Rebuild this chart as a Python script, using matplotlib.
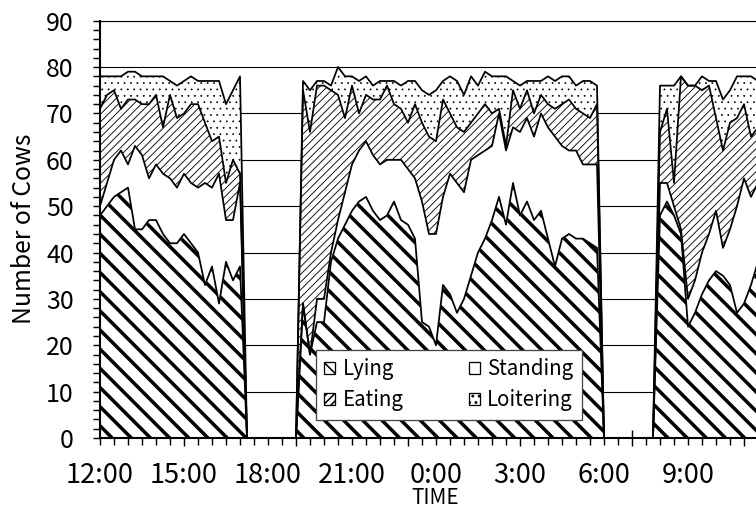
import numpy as np
import matplotlib.pyplot as plt
from matplotlib.patches import Patch
from matplotlib.ticker import MultipleLocator, FixedLocator, FuncFormatter

plt.rcParams['font.family'] = ['Noto Sans CJK JP', 'DejaVu Sans']

### Data: number of cows per behaviour, 15-min steps, hours after 12:00
step = 0.25

start_1 = 0.0
lying_1    = [48, 50, 52, 53, 54, 45, 45, 47, 47, 44, 42, 42, 44, 42, 40, 33, 37, 29, 38, 34, 37]
standing_1 = [2, 5, 8, 9, 5, 18, 16, 9, 12, 13, 14, 12, 13, 13, 14, 22, 17, 28, 9, 13, 18]
eating_1   = [21, 19, 15, 9, 14, 10, 11, 16, 15, 10, 18, 15, 13, 17, 18, 13, 10, 8, 8, 13, 2]
loiter_1   = [7, 4, 3, 7, 6, 6, 6, 6, 4, 11, 3, 7, 7, 6, 5, 9, 13, 12, 17, 15, 21]

start_2 = 7.25
lying_2    = [29, 18, 25, 25, 38, 43, 46, 49, 51, 52, 49, 47, 48, 51, 47, 46, 43, 25, 24, 20, 33, 31,
              27, 30, 35, 40, 43, 47, 52, 46, 55, 48, 51, 47, 49, 43, 37, 43, 44, 43, 43, 42, 41]
standing_2 = [0, 0, 5, 5, 2, 4, 7, 10, 11, 12, 12, 12, 12, 9, 13, 12, 13, 26, 20, 24, 19, 26,
              28, 23, 25, 21, 19, 16, 18, 16, 12, 18, 18, 18, 21, 24, 28, 20, 18, 19, 16, 17, 18]
eating_2   = [46, 48, 46, 46, 35, 27, 16, 17, 8, 10, 12, 14, 16, 12, 11, 10, 16, 17, 21, 20, 21, 13,
              12, 13, 8, 9, 10, 7, 1, 1, 8, 5, 6, 5, 4, 5, 6, 9, 11, 9, 11, 10, 13]
loiter_2   = [2, 9, 1, 1, 1, 6, 9, 2, 7, 4, 3, 4, 1, 5, 5, 9, 5, 7, 9, 11, 4, 8,
              10, 8, 10, 6, 7, 8, 7, 15, 2, 5, 2, 7, 3, 6, 6, 6, 5, 5, 7, 8, 4]

start_3 = 20.0
lying_3    = [48, 51, 48, 44, 24, 27, 31, 34, 36, 35, 33, 27, 29, 33, 38]
standing_3 = [7, 4, 2, 1, 6, 7, 9, 10, 13, 6, 12, 23, 27, 19, 17]
eating_3   = [11, 16, 5, 33, 46, 42, 35, 32, 20, 21, 23, 19, 16, 13, 12]
loiter_3   = [10, 5, 21, 0, 0, 0, 3, 1, 8, 11, 7, 9, 6, 13, 10]

hour_ticks = ['12:00', '15:00', '18:00', '21:00', '0:00', '3:00', '6:00', '9:00']

### Build full time axis (zeros where no observation)
t = np.arange(0, 24 + step / 2, step)
layers = np.zeros((4, len(t)))
for start, cols in [(start_1, (lying_1, standing_1, eating_1, loiter_1)),
                    (start_2, (lying_2, standing_2, eating_2, loiter_2)),
                    (start_3, (lying_3, standing_3, eating_3, loiter_3))]:
    i0 = int(round(start / step))
    for k in range(4):
        layers[k, i0:i0 + len(cols[k])] = cols[k]
cum = np.cumsum(layers, axis=0)

dpi = 115
fig = plt.figure(figsize=(756 / dpi, 510 / dpi), dpi=dpi)
ax = fig.add_axes([100 / 756, 72 / 510, 672 / 756, 417.3 / 510])
ax.set_axisbelow(True)

hatches = ['\\\\', None, '/////', '...']
hlw = [2.2, 0.5, 0.55, 0.35]
base = np.zeros(len(t))
for k in range(4):
    with plt.rc_context({'hatch.linewidth': hlw[k]}):
        ax.fill_between(t, base, cum[k], facecolor='white', edgecolor='black',
                        hatch=hatches[k], linewidth=0, zorder=2)
    base = cum[k]
for k in range(4):
    ax.plot(t, cum[k], color='black', lw=1.1, zorder=3)

ax.set_xlim(0, 24)
ax.set_ylim(0, 90)

ax.yaxis.set_major_locator(MultipleLocator(10))
ax.yaxis.set_minor_locator(MultipleLocator(2))
ax.yaxis.grid(True, which='major', color='black', lw=0.7)

def hour_label(v, pos):
    if abs(v / 3 - round(v / 3)) < 1e-6 and 0 <= round(v / 3) < len(hour_ticks):
        return hour_ticks[int(round(v / 3))]
    return ''

ax.xaxis.set_major_locator(FixedLocator(np.arange(3, 24, 4)))
ax.xaxis.set_minor_locator(MultipleLocator(0.5))
ax.xaxis.set_major_formatter(FuncFormatter(hour_label))
ax.xaxis.set_minor_formatter(FuncFormatter(hour_label))

ax.tick_params(axis='x', which='major', direction='inout', length=10, width=0.9,
               labelsize=17, pad=10.2)
ax.tick_params(axis='x', which='minor', direction='out', length=4.4, width=0.9,
               labelsize=17, pad=10.7)
ax.tick_params(axis='y', which='both', direction='out', length=4.4, width=0.9,
               labelsize=15.6, pad=12)

for s in ['left', 'bottom']:
    ax.spines[s].set_linewidth(1.3)
ax.spines['top'].set_linewidth(0.7)
ax.spines['right'].set_visible(False)

fig.text(24 / 756, 1 - 229 / 510, 'Number of Cows', rotation=90, ha='center',
         va='center', fontsize=15.5)
fig.text(435 / 756, 1 / 510, 'TIME', ha='center', va='bottom', fontsize=13)

handles = []
names = ['Lying', 'Eating', 'Standing', 'Loitering']
order = [0, 2, 1, 3]
for name, k in zip(names, order):
    with plt.rc_context({'hatch.linewidth': [1.2, 0.5, 0.5, 0.35][k]}):
        handles.append(Patch(facecolor='white', edgecolor='black', hatch=hatches[k],
                             linewidth=0.8, label=name))
leg = ax.legend(handles=handles, ncol=2, loc='upper left',
                bbox_to_anchor=(316 / 756, 1 - 350 / 510), bbox_transform=fig.transFigure,
                fontsize=12.8, frameon=True, fancybox=False, framealpha=1,
                edgecolor='#444444', borderpad=0.4, handlelength=0.55, handleheight=0.55,
                handletextpad=0.35, columnspacing=3.2, labelspacing=0.45, borderaxespad=0)
leg.get_frame().set_linewidth(0.8)
leg.set_zorder(5)

fig.savefig('out.png', dpi=dpi)
